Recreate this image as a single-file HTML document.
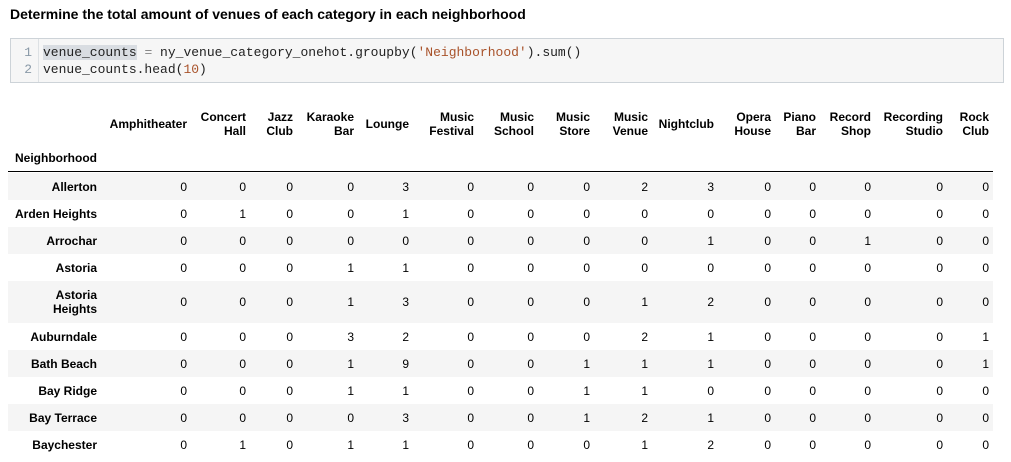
<!DOCTYPE html>
<html><head><meta charset="utf-8"><style>
body{margin:0;width:1011px;height:462px;background:#fff;font-family:"Liberation Sans",Arial,sans-serif;position:relative;overflow:hidden;color:#000}
.abs{position:absolute;white-space:nowrap}
#title{left:10px;top:6px;font-size:14px;font-weight:bold}
#code{position:absolute;left:10px;top:38px;width:994px;height:45px;background:#f6f6f6;border:1px solid #cdd3d8;box-sizing:border-box}
#gutter{position:absolute;left:0;top:0;width:27px;height:100%;border-right:1px solid #dde1e4}
.ln{position:absolute;right:6px;font-family:"Liberation Mono",monospace;font-size:13px;color:#8a9aa8}
.cl{position:absolute;left:32px;font-family:"Liberation Mono",monospace;font-size:13px;color:#222}
.hd{font-size:12px;font-weight:bold;text-align:right;line-height:14px}
.cell{font-size:12px;text-align:right}
.stripe{position:absolute;left:8px;width:985px;background:#f5f5f5}
</style></head><body>
<div id="title" class="abs">Determine the total amount of venues of each category in each neighborhood</div>
<div id="code">
<div id="gutter">
<div class="ln" style="top:6px">1</div>
<div class="ln" style="top:23px">2</div>
</div>
<div class="cl" style="top:6px"><span style="background:#d9dde2">venue_counts</span> <span style="color:#888">=</span> ny_venue_category_onehot.groupby(<span style="color:#a8522a">'Neighborhood'</span>).sum()</div>
<div class="cl" style="top:23px">venue_counts.head(<span style="color:#a8522a">10</span>)</div>
</div>
<div id="table"></div>
<script>
const columns=["Amphitheater","Concert|Hall","Jazz|Club","Karaoke|Bar","Lounge","Music|Festival","Music|School","Music|Store","Music|Venue","Nightclub","Opera|House","Piano|Bar","Record|Shop","Recording|Studio","Rock|Club"];
const neighborhoods=["Allerton","Arden Heights","Arrochar","Astoria","Astoria|Heights","Auburndale","Bath Beach","Bay Ridge","Bay Terrace","Baychester"];
const values=[
[0,0,0,0,3,0,0,0,2,3,0,0,0,0,0],
[0,1,0,0,1,0,0,0,0,0,0,0,0,0,0],
[0,0,0,0,0,0,0,0,0,1,0,0,1,0,0],
[0,0,0,1,1,0,0,0,0,0,0,0,0,0,0],
[0,0,0,1,3,0,0,0,1,2,0,0,0,0,0],
[0,0,0,3,2,0,0,0,2,1,0,0,0,0,1],
[0,0,0,1,9,0,0,1,1,1,0,0,0,0,1],
[0,0,0,1,1,0,0,1,1,0,0,0,0,0,0],
[0,0,0,0,3,0,0,1,2,1,0,0,0,0,0],
[0,1,0,1,1,0,0,0,1,2,0,0,0,0,0]];
const colRight=[187,246,293,354,409,474,534,590,648,714,771,816,871,943,989];
const rowTops=[173,200,227,254,281,323,350,377,404,431];
const rowHeights=[27,27,27,27,42,27,27,27,27,27];
const T=document.getElementById('table');
function add(cls,txt,left,right,top,name,style){
  const d=document.createElement('div');
  d.className='abs '+cls;
  d.innerHTML=txt;
  d.style.top=top+'px';
  if(right!=null){d.style.right=(1011-right)+'px';}else{d.style.left=left+'px';}
  if(style)d.style.cssText+=style;
  
  
  T.appendChild(d);return d;
}
columns.forEach((c,i)=>{
  const parts=c.split('|');
  const top=parts.length>1?110:117;
  const slug=c.replace('|','-').toLowerCase();
  add('hd',parts.join('<br>'),null,colRight[i],top,'column-header-'+slug);
});
add('hd','Neighborhood',15,null,151,'index-name-header');
const line=document.createElement('div');
line.style.cssText='position:absolute;left:8px;top:171px;width:985px;height:1px;background:#000';


T.appendChild(line);
neighborhoods.forEach((n,r)=>{
  const top=rowTops[r],h=rowHeights[r];
  if(r%2===0){
    const s=document.createElement('div');
    s.className='stripe';
    s.style.top=top+'px';s.style.height=h+'px';
    
    
    T.appendChild(s);
  }
  const parts=n.split('|');
  const slug=n.replace('|',' ').toLowerCase().replace(/ /g,'-');
  const ty=top+h/2-(parts.length>1?14:7);
  add('hd',parts.join('<br>'),null,97,ty,'row-label-'+slug);
  values[r].forEach((v,c)=>{
    add('cell',String(v),null,colRight[c],top+h/2-7,'cell-'+slug);
  });
});
</script>
</body></html>
